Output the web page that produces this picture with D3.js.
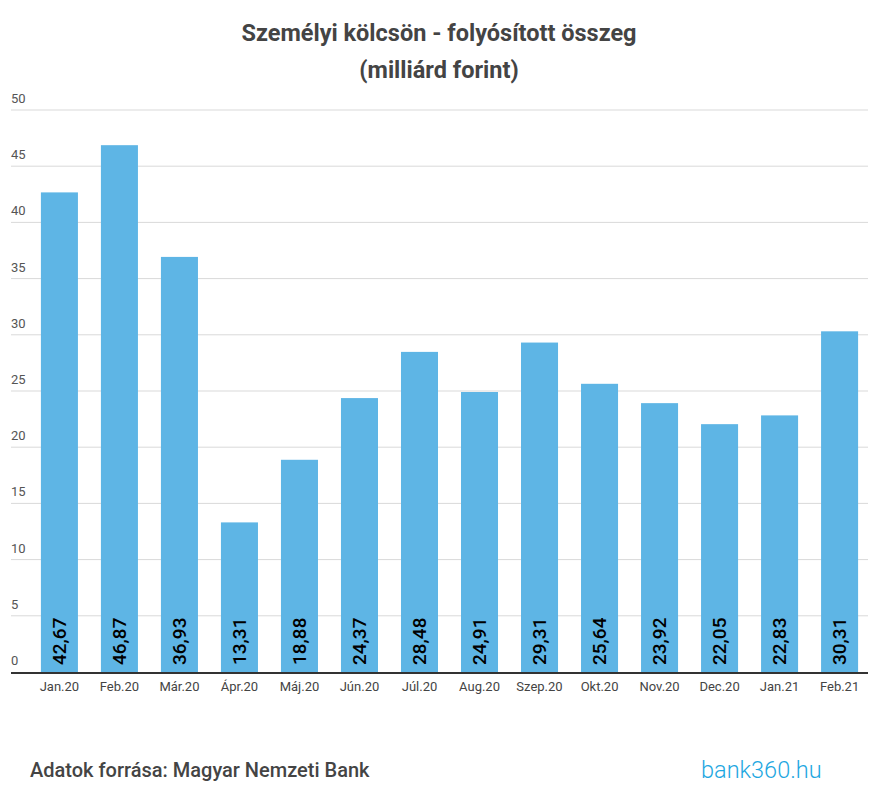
<!DOCTYPE html>
<html><head><meta charset="utf-8">
<script src="https://cdn.jsdelivr.net/npm/d3@7"></script>
<style>body{margin:0;background:#fff;font-family:Roboto,sans-serif}</style>
</head><body><div id="chart"></div>
<script>
const categories = ["Jan.20","Feb.20","Már.20","Ápr.20","Máj.20","Jún.20","Júl.20","Aug.20","Szep.20","Okt.20","Nov.20","Dec.20","Jan.21","Feb.21"];
const values = [42.67,46.87,36.93,13.31,18.88,24.37,28.48,24.91,29.31,25.64,23.92,22.05,22.83,30.31];
const yTicks = [0,5,10,15,20,25,30,35,40,45,50];
const titleLines = ["Személyi kölcsön - folyósított összeg","(milliárd forint)"];
const source = "Adatok forrása: Magyar Nemzeti Bank";

const W=883,H=800;
const svg=d3.select("#chart").append("svg").attr("width",W).attr("height",H);
const x=d3.scaleBand().domain(categories).range([29.5,869.5]).paddingInner(0.383).paddingOuter(0.19);
const y=d3.scaleLinear().domain([0,50]).range([672,110]);

// gridlines
svg.append("g").selectAll("line").data(yTicks.filter(d=>d>0)).join("line")
  .attr("x1",11).attr("x2",868).attr("y1",d=>y(d)).attr("y2",d=>y(d))
  .attr("stroke","#d9d9d9").attr("stroke-width",1);
svg.append("g").selectAll("text").data(yTicks).join("text")
  .attr("x",11).attr("y",d=>y(d)-7).text(d=>d)
  .attr("font-size",13).attr("fill","#555");

// bars
svg.append("g").selectAll("rect").data(values).join("rect")
  .attr("x",(d,i)=>x(categories[i])).attr("width",x.bandwidth())
  .attr("y",d=>y(d)).attr("height",d=>y(0)-y(d)).attr("fill","#5eb5e5");

// value labels
svg.append("g").selectAll("text").data(values).join("text")
  .attr("transform",(d,i)=>`translate(${x(categories[i])+x.bandwidth()/2+6.5},${y(0)-7}) rotate(-90)`)
  .text(d=>d.toFixed(2).replace(".",","))
  .attr("font-size",19).attr("fill","#000").attr("font-weight",500);

// x axis
svg.append("line").attr("x1",11).attr("x2",868).attr("y1",673).attr("y2",673).attr("stroke","#333").attr("stroke-width",2);
const xAxis=d3.axisBottom(x).tickSize(0);
const gx=svg.append("g").attr("transform","translate(0,679)").call(xAxis);
gx.select(".domain").remove();
gx.selectAll("text").attr("font-size",13).attr("fill","#444").attr("font-family","Roboto");

// title
svg.append("g").selectAll("text").data(titleLines).join("text")
  .attr("x",439).attr("y",(d,i)=>41+i*37).attr("text-anchor","middle")
  .attr("font-size",23.5).attr("font-weight",700).attr("fill","#444").text(d=>d);

// footer
svg.append("text").attr("x",30).attr("y",777).text(source).attr("font-size",20).attr("font-weight",500).attr("fill","#444");
svg.append("text").attr("x",701).attr("y",778).text("bank360.hu").attr("font-size",23.5).attr("font-weight",300).attr("fill","#1ea7e1");
</script></body></html>
